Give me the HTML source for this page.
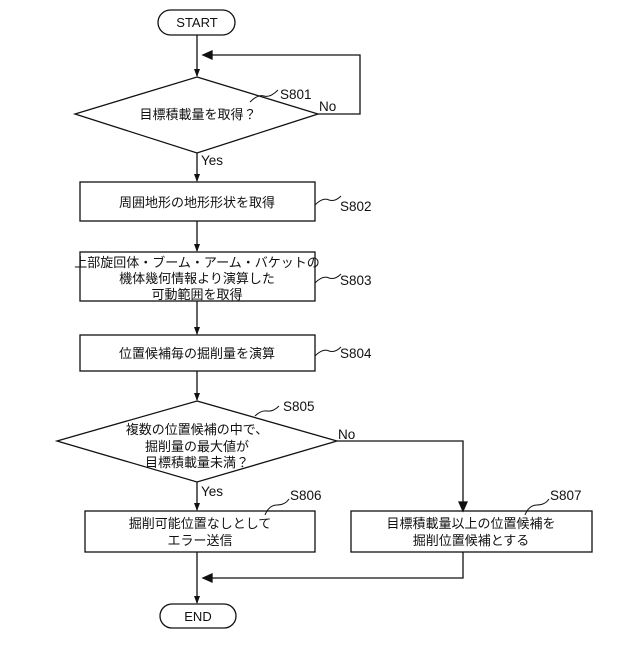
<!DOCTYPE html>
<html><head><meta charset="utf-8"><style>
body{margin:0;background:#fff}
svg text{font-family:"Liberation Sans","Noto Sans CJK JP",sans-serif;fill:#111}
</style></head><body>
<svg width="640" height="640" viewBox="0 0 640 640" xmlns="http://www.w3.org/2000/svg">
<defs><marker id="a" markerWidth="8" markerHeight="8" refX="7" refY="4" orient="auto" markerUnits="userSpaceOnUse"><path d="M0,1 L8,4 L0,7z" fill="#111"/></marker></defs>
<g stroke="#111" stroke-width="1.3" fill="none">
<rect x="158" y="10" width="77" height="25" rx="12.5"/>
<line x1="197" y1="35" x2="197" y2="76" marker-end="url(#a)"/>
<polyline points="318,114 360,114 360,55 205,55"/>
<path d="M212,51 L203,55 L212,59z" fill="#111"/>
<polygon points="197,77 318,114 197,153 75,114"/>
<line x1="197" y1="153" x2="197" y2="181" marker-end="url(#a)"/>
<rect x="80" y="182" width="235" height="39"/>
<line x1="197" y1="221" x2="197" y2="251" marker-end="url(#a)"/>
<rect x="80" y="252" width="235" height="49"/>
<line x1="197" y1="301" x2="197" y2="334" marker-end="url(#a)"/>
<rect x="80" y="335" width="235" height="36"/>
<line x1="197" y1="371" x2="197" y2="400" marker-end="url(#a)"/>
<polygon points="197,401 337,441 197,482 57,441"/>
<line x1="197" y1="482" x2="197" y2="510" marker-end="url(#a)"/>
<polyline points="337,441 463,441 463,510" />
<path d="M459,502 L463,511 L467,502z" fill="#111"/>
<rect x="85" y="511" width="230" height="41"/>
<rect x="351" y="511" width="241" height="41"/>
<polyline points="463,552 463,578 205,578"/>
<path d="M212,574 L203,578 L212,582z" fill="#111"/>
<line x1="197" y1="552" x2="197" y2="603" marker-end="url(#a)"/>
<rect x="160" y="604" width="76" height="24" rx="12"/>
<path d="M250,102 q8,-8 14,-6 q6,2 14,-6" stroke-width="1"/>
<path d="M315,205 q8,-8 14,-5 q6,2 12,-4" stroke-width="1"/>
<path d="M315,283 q8,-8 14,-5 q6,2 12,-4" stroke-width="1"/>
<path d="M315,356 q8,-8 14,-5 q6,2 12,-4" stroke-width="1"/>
<path d="M255,416 q6,-6 12,-5 q6,1 12,-5" stroke-width="1"/>
<path d="M265,515 q4,-10 12,-10 q8,0 12,-6" stroke-width="1"/>
<path d="M525,515 q4,-10 12,-10 q8,0 12,-6" stroke-width="1"/>
</g>
<g font-size="13" text-anchor="middle">
<text x="197" y="27">START</text>
<text x="198" y="119">目標積載量を取得？</text>
<text x="197" y="207">周囲地形の地形形状を取得</text>
<text x="197" y="267">上部旋回体・ブーム・アーム・バケットの</text>
<text x="197" y="283">機体幾何情報より演算した</text>
<text x="197" y="299">可動範囲を取得</text>
<text x="197" y="358">位置候補毎の掘削量を演算</text>
<text x="197" y="434">複数の位置候補の中で、</text>
<text x="197" y="451">掘削量の最大値が</text>
<text x="197" y="467">目標積載量未満？</text>
<text x="200" y="528">掘削可能位置なしとして</text>
<text x="200" y="545">エラー送信</text>
<text x="471" y="528">目標積載量以上の位置候補を</text>
<text x="471" y="545">掘削位置候補とする</text>
<text x="198" y="621">END</text>
</g>
<g font-size="13.5">
<text x="280" y="99">S801</text>
<text x="319" y="111">No</text>
<text x="201" y="165">Yes</text>
<text x="340" y="211">S802</text>
<text x="340" y="285">S803</text>
<text x="340" y="358">S804</text>
<text x="283" y="411">S805</text>
<text x="338" y="439">No</text>
<text x="201" y="496">Yes</text>
<text x="290" y="500">S806</text>
<text x="550" y="500">S807</text>
</g>
</svg>
</body></html>
